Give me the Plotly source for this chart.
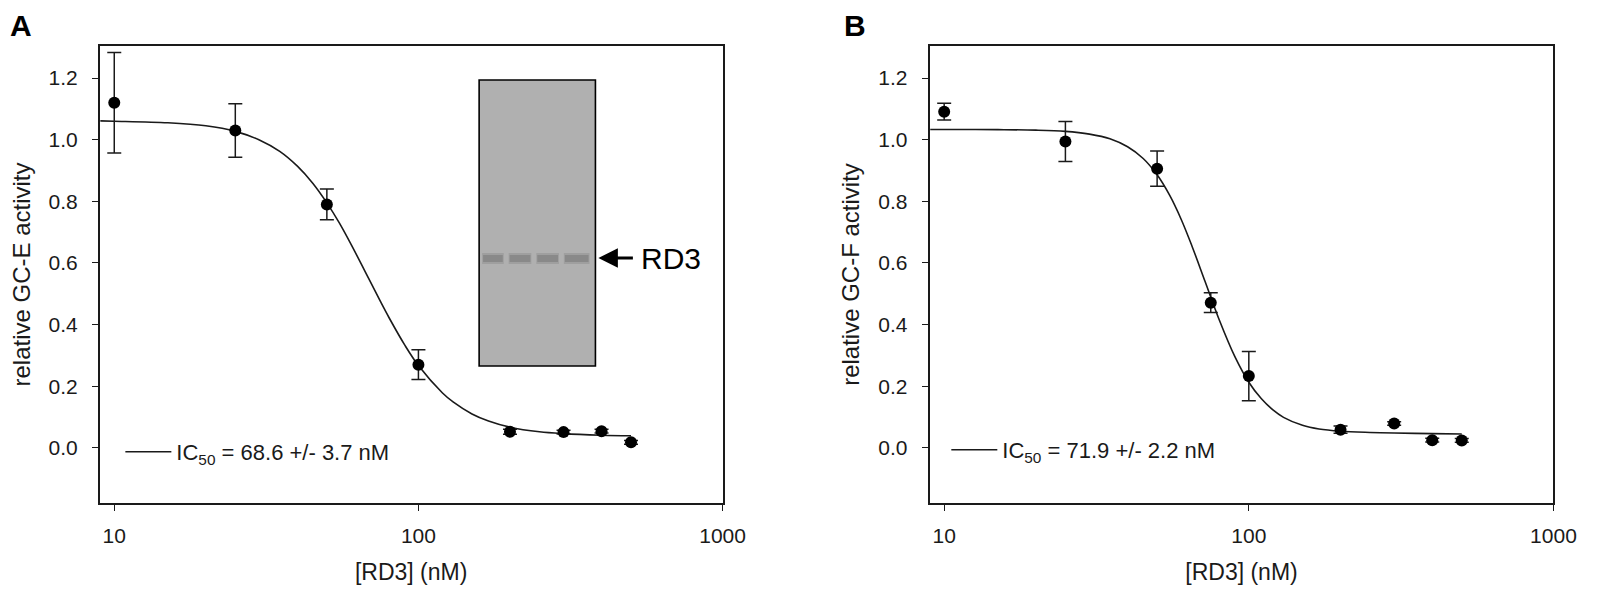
import plotly.graph_objects as go

# Panel A: GC-E activity vs RD3 concentration
conc_a = [10, 25, 50, 100, 200, 300, 400, 500]
act_a = [1.12, 1.03, 0.79, 0.27, 0.052, 0.051, 0.054, 0.018]
err_a = [0.163, 0.087, 0.05, 0.048, 0.008, 0.006, 0.006, 0.006]

# fitted curve A
fit_x_a = [9, 10, 15, 20, 25, 30, 35, 40, 45, 50, 55, 60, 68.6, 75, 80, 90,
           100, 120, 130, 150, 170, 200, 250, 300, 400, 500]
fit_y_a = [1.061, 1.060, 1.055, 1.045, 1.027, 0.999, 0.962, 0.914, 0.858, 0.795,
           0.729, 0.661, 0.550, 0.475, 0.423, 0.335, 0.267, 0.178, 0.149, 0.110,
           0.087, 0.067, 0.052, 0.046, 0.041, 0.039]

# Panel B: GC-F activity vs RD3 concentration
conc_b = [10, 25, 50, 75, 100, 200, 300, 400, 500]
act_b = [1.091, 0.994, 0.906, 0.471, 0.233, 0.059, 0.079, 0.025, 0.024]
err_b = [0.027, 0.065, 0.057, 0.032, 0.08, 0.012, 0.006, 0.006, 0.006]

fit_x_b = [9, 10, 15, 20, 25, 30, 35, 40, 45, 50, 55, 60, 65, 71.9, 80, 90,
           100, 110, 120, 130, 150, 170, 200, 250, 300, 400, 500]
fit_y_b = [1.033, 1.033, 1.0325, 1.031, 1.027, 1.018, 1.003, 0.977, 0.939, 0.886,
           0.819, 0.741, 0.656, 0.539, 0.415, 0.296, 0.213, 0.159, 0.123, 0.099,
           0.073, 0.061, 0.054, 0.05, 0.048, 0.046, 0.045]

legend_a = "IC<sub>50</sub> = 68.6 +/- 3.7 nM"
legend_b = "IC<sub>50</sub> = 71.9 +/- 2.2 nM"

FONT = "Liberation Sans, Arial, sans-serif"
INK = "#1a1a1a"
W, H = 1600, 590
MT, MB = 38, 95


def px(x):
    return x / W


def py(y):
    # pixel row -> paper fraction
    return (H - MB - y) / (H - MT - MB)


fig = go.Figure()

for xa, ya, cx, cy, ey, fx, fy, name, leg in [
    ("x", "y", conc_a, act_a, err_a, fit_x_a, fit_y_a, legend_a, "legend"),
    ("x2", "y2", conc_b, act_b, err_b, fit_x_b, fit_y_b, legend_b, "legend2"),
]:
    fig.add_trace(go.Scatter(x=fx, y=fy, mode="lines", line_shape="spline",
                             line=dict(color=INK, width=1.6), name=name,
                             xaxis=xa, yaxis=ya, legend=leg, showlegend=True))
    fig.add_trace(go.Scatter(x=cx, y=cy, mode="markers",
                             marker=dict(color="black", size=12),
                             error_y=dict(type="data", array=ey, color=INK,
                                          thickness=1.5, width=7),
                             xaxis=xa, yaxis=ya, showlegend=False))

axis_common = dict(showline=True, linecolor=INK, linewidth=1.6, mirror=True,
                   ticks="outside", ticklen=6, tickcolor=INK, tickwidth=1.4,
                   showgrid=False, zeroline=False,
                   tickfont=dict(family=FONT, size=21, color=INK))

xcommon = dict(axis_common, type="log", range=[0.952, 3],
               tickvals=[10, 100, 1000], ticktext=["10", "100", "1000"],
               ticklabelstandoff=7,
               title=dict(text="[RD3] (nM)", standoff=18,
                          font=dict(family=FONT, size=23, color=INK)))
ycommon = dict(axis_common, range=[-0.179, 1.304],
               tickvals=[0, 0.2, 0.4, 0.6, 0.8, 1.0, 1.2], tickformat=".1f",
               ticklabelstandoff=10)

legend_common = dict(xanchor="left", yanchor="middle", itemwidth=46,
                     bgcolor="rgba(0,0,0,0)",
                     font=dict(family=FONT, size=22, color=INK))

fig.update_layout(
    width=W, height=H,
    margin=dict(l=0, r=0, t=MT, b=MB),
    paper_bgcolor="white", plot_bgcolor="white",
    xaxis=dict(xcommon, domain=[px(93), px(725)], anchor="y"),
    yaxis=dict(ycommon, domain=[0, 1], anchor="x",
               title=dict(text="relative GC-E activity", standoff=12,
                          font=dict(family=FONT, size=24, color=INK))),
    xaxis2=dict(xcommon, domain=[px(935), px(1568)], anchor="y2"),
    yaxis2=dict(ycommon, domain=[0, 1], anchor="x2",
                title=dict(text="relative GC-F activity", standoff=12,
                           font=dict(family=FONT, size=24, color=INK))),
    legend=dict(legend_common, x=px(114), y=py(444)),
    legend2=dict(legend_common, x=px(952), y=py(442)),
)

# gel inset in panel A
shapes = [dict(type="rect", xref="paper", yref="paper",
               x0=px(478), x1=px(596), y0=py(358), y1=py(72),
               fillcolor="#b0b0b0", line=dict(color="black", width=1.6))]
for l0, l1 in [(481, 503), (508, 531), (536, 559), (564, 590)]:
    shapes.append(dict(type="rect", xref="paper", yref="paper",
                       x0=px(l0), x1=px(l1), y0=py(256), y1=py(245),
                       fillcolor="rgba(130,130,130,0.35)", line=dict(width=0)))
    shapes.append(dict(type="rect", xref="paper", yref="paper",
                       x0=px(l0 + 1), x1=px(l1 - 1), y0=py(254), y1=py(247),
                       fillcolor="rgba(110,110,110,0.45)", line=dict(width=0)))
fig.update_layout(shapes=shapes)

annotations = [
    dict(text="<b>A</b>", x=px(0), y=py(17), xref="paper", yref="paper",
         xanchor="left", yanchor="middle", showarrow=False,
         font=dict(family=FONT, size=30, color="black")),
    dict(text="<b>B</b>", x=px(846), y=py(17), xref="paper", yref="paper",
         xanchor="left", yanchor="middle", showarrow=False,
         font=dict(family=FONT, size=30, color="black")),
    dict(text="", x=px(599), y=py(250), xref="paper", yref="paper",
         showarrow=True, ax=36, ay=0, arrowhead=2, arrowsize=1.3,
         arrowwidth=3, arrowcolor="black", standoff=0),
    dict(text="RD3", x=px(640), y=py(250), xref="paper", yref="paper",
         xanchor="left", yanchor="middle", showarrow=False,
         font=dict(family=FONT, size=30, color="black")),
]
fig.update_layout(annotations=annotations)

fig.write_html("out.html")
